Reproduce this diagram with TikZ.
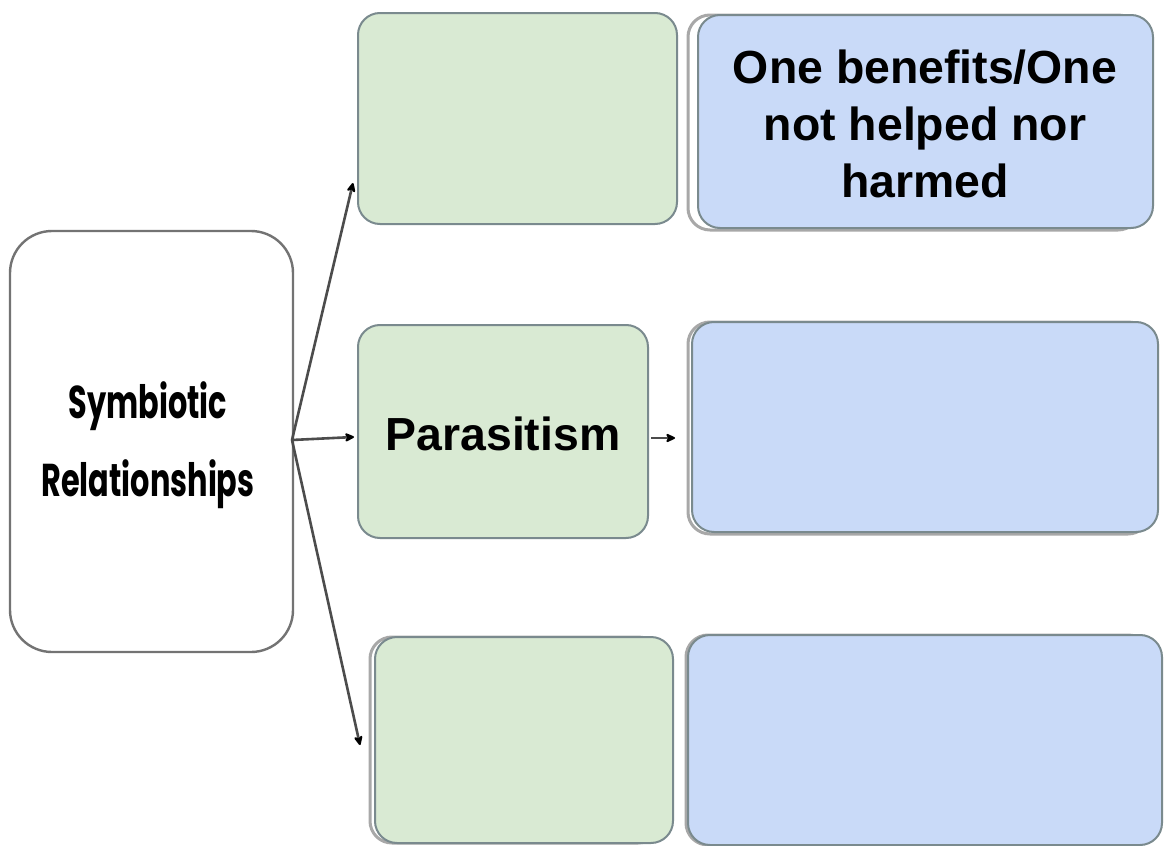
\documentclass[tikz,border=0pt]{standalone}
\usepackage{fontspec}
\setmainfont{Liberation Sans}
\newfontfamily\handfont{Poppins}
\usetikzlibrary{arrows.meta}
\definecolor{gfill}{HTML}{D9EAD3}
\definecolor{bfill}{HTML}{C9DAF8}
\definecolor{edgec}{HTML}{7A8A8E}
\definecolor{shadc}{HTML}{A8A8A8}
\begin{document}
\begin{tikzpicture}[x=0.5pt,y=-0.5pt,
  box/.style={draw=edgec, line width=1pt, rounded corners=11pt},
  gbox/.style={box, fill=gfill},
  bbox/.style={box, fill=bfill},
  shad/.style={draw=shadc, line width=1.5pt, rounded corners=11pt},
  conn/.style={draw=black!70, line width=1.3pt, -{Stealth[length=6pt,width=5.5pt,round,color=black]}},
  lbl/.style={font=\fontsize{23.2}{28.5}\selectfont\bfseries, align=center, text=black}]
\useasboundingbox (0,0) rectangle (1164,846);
\fill[white] (0,0) rectangle (1164,846);
% left box
\draw[draw=black!55, line width=1.2pt, rounded corners=21pt] (10,231) rectangle (293,652);
\node[font=\handfont\fontsize{23}{39}\selectfont\bfseries, align=center, xscale=0.66] (sym) at (148,445) {Symbiotic\\Relationships};
% green boxes
\draw[gbox] (358,13) rectangle (677,224);
\node (g1) at (517.5,118.5) {};
\draw[gbox] (358,325) rectangle (648,538);
\node[lbl] (g2) at (503,434) {Parasitism};
\draw[shad] (370,637) rectangle (660,843);
\draw[gbox] (375,637) rectangle (673,843);
\node (g3) at (524,740) {};
% blue boxes
\draw[shad] (688,15) rectangle (1140,230);
\draw[bbox] (698,15) rectangle (1153,228);
\node[lbl] (b1) at (925,124) {One benefits/One\\not helped nor\\harmed};
\draw[shad] (688,322) rectangle (1150,534);
\draw[bbox] (692,322) rectangle (1158,532);
\node (b2) at (925,427) {};
\draw[shad] (686,635) rectangle (1150,845);
\draw[bbox] (688,635) rectangle (1162,845);
\node (b3) at (925,740) {};
% connectors
\coordinate (br) at (292,440);
\coordinate (t1) at (353,183);
\coordinate (t2) at (354,437);
\coordinate (t3) at (360,745);
\coordinate (s4) at (651,438);
\coordinate (t4) at (675,438);
\draw[conn] (br) -- (t1);
\draw[conn] (br) -- (t2);
\draw[conn] (br) -- (t3);
\draw[conn] (s4) -- (t4);
\end{tikzpicture}
\end{document}
